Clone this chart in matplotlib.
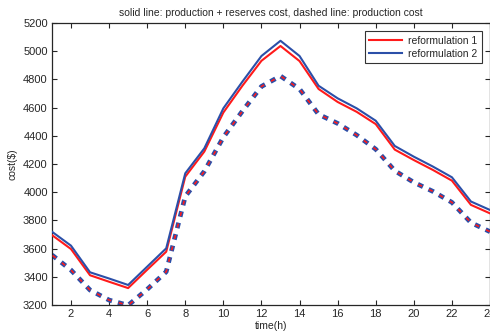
import matplotlib
matplotlib.use("Agg")
import matplotlib.pyplot as plt

hours = list(range(1, 25))

# solid: production + reserves cost
total_r1 = [3696, 3597, 3411, 3365, 3320, 3450, 3578, 4110, 4288, 4565, 4755, 4932,
            5037, 4930, 4732, 4640, 4570, 4483, 4302, 4228, 4158, 4082, 3910, 3850]
total_r2 = [3720, 3621, 3432, 3388, 3342, 3472, 3602, 4134, 4311, 4595, 4784, 4966,
            5074, 4966, 4755, 4666, 4595, 4507, 4328, 4252, 4182, 4106, 3934, 3874]
# dashed: production cost
prod_r1 = [3555, 3448, 3306, 3235, 3198, 3311, 3436, 3970, 4148, 4390, 4575, 4750,
           4824, 4732, 4552, 4488, 4405, 4305, 4152, 4070, 4006, 3928, 3784, 3720]
prod_r2 = [3555, 3448, 3306, 3235, 3198, 3311, 3436, 3970, 4148, 4390, 4575, 4750,
           4824, 4732, 4552, 4488, 4405, 4305, 4152, 4070, 4006, 3928, 3784, 3720]

xticks = list(range(2, 25, 2))
yticks = list(range(3200, 5201, 200))

red = "#ff1a1a"
blue = "#2b4fa8"
txt = "#262626"

plt.rcParams['font.family'] = ['Liberation Sans', 'DejaVu Sans']

fig = plt.figure(figsize=(4.9, 3.32), dpi=100)
ax = fig.add_axes([0.106, 0.0813, 0.894, 0.8494])

ax.plot(hours, total_r1, color=red, lw=1.5, label="reformulation 1", zorder=3)
ax.plot(hours, total_r2, color=blue, lw=1.5, label="reformulation 2", zorder=3)
# thick blue dashes with thin red dashes centred on them
ax.plot(hours, prod_r2, color=blue, lw=3.4, linestyle=(0, (1.2, 1.3)), zorder=2)
ax.plot(hours, prod_r1, color=red, lw=1.2, linestyle=(6.57, (2.4, 4.68)), zorder=3)

ax.set_xlim(1, 24)
ax.set_ylim(3200, 5200)
ax.set_xticks(xticks)
ax.set_yticks(yticks)
ax.tick_params(direction="in", top=True, right=True, length=3.5, width=0.8,
               labelsize=8, colors=txt, pad=3)
for s in ax.spines.values():
    s.set_linewidth(0.9)
    s.set_color(txt)

ax.set_title("solid line: production + reserves cost, dashed line: production cost",
             fontsize=7.5, color=txt, pad=5)
ax.set_xlabel("time(h)", fontsize=7.5, color=txt, labelpad=1)
ax.set_ylabel("cost($)", fontsize=7.5, color=txt, labelpad=4)

leg = ax.legend(loc="upper right", fontsize=7.5, frameon=True, fancybox=False,
                edgecolor="black", handlelength=3.2, handletextpad=0.6,
                borderaxespad=0.8, borderpad=0.4, labelspacing=0.3)
leg.get_frame().set_linewidth(0.8)
for t in leg.get_texts():
    t.set_color(txt)

fig.savefig("out.png", dpi=100)
